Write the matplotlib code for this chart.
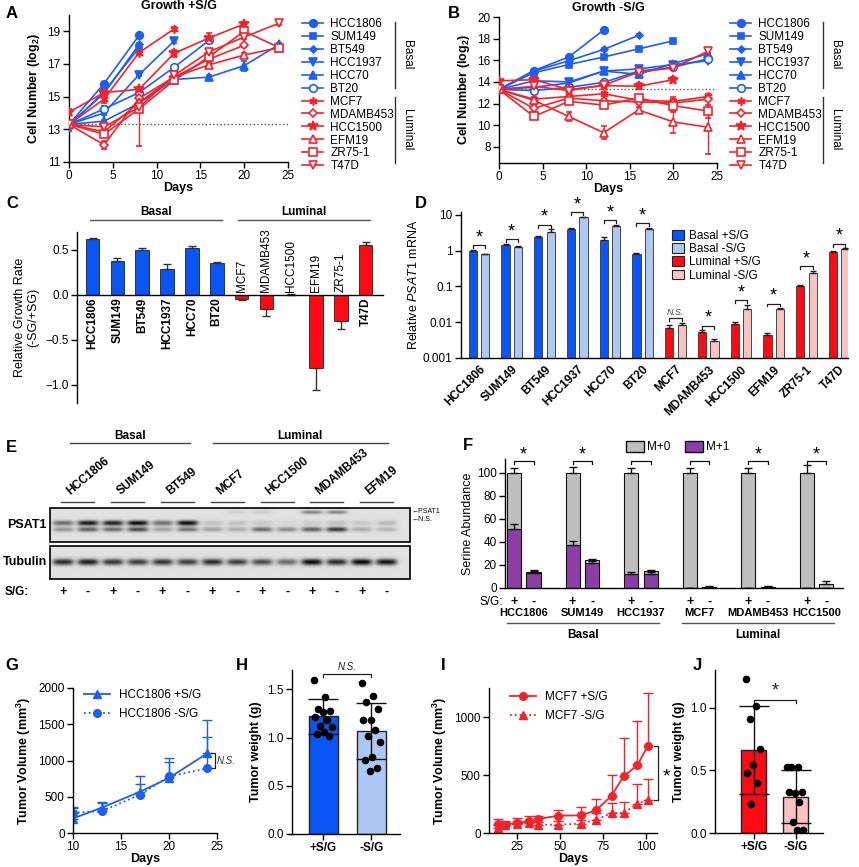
import numpy as np
import matplotlib
matplotlib.use("Agg")
import matplotlib.pyplot as plt
from matplotlib.lines import Line2D
from matplotlib.patches import Patch, Rectangle
from matplotlib.ticker import NullLocator

plt.rcParams['font.family'] = ['Liberation Sans', 'DejaVu Sans']
plt.rcParams['font.size'] = 8
plt.rcParams['mathtext.fontset'] = 'custom'
plt.rcParams['mathtext.rm'] = 'Liberation Sans'
plt.rcParams['mathtext.it'] = 'Liberation Sans:italic'
plt.rcParams['mathtext.bf'] = 'Liberation Sans:bold'
plt.rcParams['axes.linewidth'] = 1.0

# ---------------- data ----------------
days = [0, 4, 8, 12, 16, 20, 24]
cell_lines = ['HCC1806', 'SUM149', 'BT549', 'HCC1937', 'HCC70', 'BT20',
              'MCF7', 'MDAMB453', 'HCC1500', 'EFM19', 'ZR75-1', 'T47D']

# A: growth +S/G (log2 cell number)
growth_plus = [
    [13.3, 15.8, 18.75],
    [13.2, 15.3, 18.0],
    [13.3, 15.2, 18.2],
    [13.3, 14.0, 16.35, 18.4],
    [13.3, 13.5, 14.6, 16.05, 16.2, 16.9, 18.2],
    [13.3, 14.25, 15.25, 16.8, 18.45],
    [13.3, 14.85, 17.7, 19.15],
    [13.3, 12.05, 14.9, 16.2, 17.3, 18.15],
    [14.05, 15.25, 15.45, 17.65, 18.6, 19.45],
    [13.3, 12.85, 14.65, 16.2, 16.95, 17.55, 18.0],
    [13.3, 12.7, 14.25, 16.0, 17.45, 19.0, 18.0],
    [13.3, 13.15, 14.35, 16.3, 17.75, 18.65, 19.5],
]
growth_plus_err = [
    [0.1, 0.1, 0.1],
    [0.3, 0.15, 0.1],
    [0.1, 0.1, 0.1],
    [0.1, 0.1, 0.1, 0.1],
    [0.1, 0.1, 0.1, 0.1, 0.1, 0.3, 0.1],
    [0.1, 0.15, 0.1, 0.1, 0.1],
    [0.1, 0.25, 0.1, 0.1],
    [0.1, 0.25, 0.1, 0.1, 0.1, 0.1],
    [0.2, 0.1, 0.1, 0.2, 0.3, 0.1],
    [0.1, 0.1, 0.1, 0.1, 0.1, 0.1, 0.1],
    [0.1, 0.2, (2.25, 0.1), 0.15, 0.3, 0.1, 0.1],
    [0.1, 0.15, 0.1, 0.1, 0.15, 0.1, 0.1],
]

# B: growth -S/G
growth_minus = [
    [13.3, 15.05, 16.3, 18.8],
    [13.3, 14.85, 15.6, 16.3, 17.05, 17.8],
    [13.3, 15.0, 15.95, 17.0, 18.3],
    [13.3, 14.1, 14.0, 15.0, 15.2, 15.6, 15.95],
    [13.3, 13.5, 13.9, 15.0, 14.7, 15.7, 16.6],
    [13.3, 13.2, 13.5, 13.95, 15.0, 15.35, 16.15],
    [13.3, 12.4, 12.65, 12.9, 12.3, 12.2, 12.65],
    [13.3, 11.55, 12.5, 12.25, 12.15, 12.05, 12.4],
    [14.1, 14.2, 13.3, 13.65, 13.6, 14.2],
    [13.3, 12.3, 10.8, 9.3, 11.4, 10.3, 9.8],
    [13.3, 10.8, 12.2, 11.85, 12.5, 11.8, 11.3],
    [13.3, 13.6, 13.2, 13.7, 14.9, 15.3, 16.85],
]
growth_minus_err = [
    [0.1, 0.15, 0.1, 0.1],
    [0.3, 0.1, 0.1, 0.1, 0.1, 0.1],
    [0.1, 0.1, 0.1, 0.1, 0.1],
    [0.1, 0.1, 0.15, 0.1, 0.1, 0.1, 0.1],
    [0.1, 0.1, 0.2, 0.1, 0.3, 0.1, 0.1],
    [0.1, 0.1, 0.1, 0.1, 0.1, 0.1, 0.1],
    [0.1, 0.15, 0.2, 0.2, 0.2, 0.4, 0.2],
    [0.1, 0.3, 0.1, 0.15, 0.2, 0.2, 0.2],
    [0.1, 0.1, 0.1, 0.2, 0.3, 0.25],
    [0.2, 0.3, 0.45, 0.6, 0.3, 1.05, 2.5],
    [0.1, 0.2, 0.2, 0.2, 0.3, 0.6, 0.6],
    [0.1, 0.1, 0.1, 0.15, 0.15, 0.2, 0.2],
]

# C: relative growth rate
rel_growth = [0.62, 0.38, 0.50, 0.29, 0.52, 0.36, -0.04, -0.16, 0.005, -0.81, -0.29, 0.56]
rel_growth_err = [0.015, 0.03, 0.02, 0.05, 0.02, 0.01, 0.02, 0.07, 0.002, 0.25, 0.09, 0.03]

# D: PSAT1 mRNA
psat1_plus = [0.95, 1.45, 2.4, 4.0, 2.0, 0.78, 0.007, 0.0053, 0.009, 0.0045, 0.1, 0.93]
psat1_plus_err = [0.1, 0.08, 0.1, 0.2, 0.35, 0.06, 0.0015, 0.0006, 0.0012, 0.0004, 0.008, 0.07]
psat1_minus = [0.78, 1.25, 3.4, 8.5, 5.0, 4.0, 0.0085, 0.003, 0.024, 0.023, 0.23, 1.1]
psat1_minus_err = [0.05, 0.06, 0.5, 0.4, 0.2, 0.25, 0.0012, 0.0005, 0.006, 0.0015, 0.04, 0.05]
psat1_sig = ['*', '*', '*', '*', '*', '*', 'N.S.', '*', '*', '*', '*', '*']

# E: western blot band intensities, 14 lanes
blot_lines = ['HCC1806', 'SUM149', 'BT549', 'MCF7', 'HCC1500', 'MDAMB453', 'EFM19']
blot_sg = ['+', '-'] * 7
psat1_top_band = [0, 0, 0, 0, 0, 0, 0, 0.08, 0.1, 0, 0.45, 0.45, 0, 0]
psat1_mid_band = [0.55, 0.95, 0.9, 1.0, 0.55, 1.0, 0.15, 0.15, 0.12, 0.05, 0.1, 0.15, 0.12, 0.18]
psat1_low_band = [0.35, 0.6, 0.55, 0.7, 0.3, 0.5, 0.3, 0.25, 0.55, 0.4, 0.6, 0.8, 0.25, 0.2]
tubulin_band = [0.85, 0.9, 0.8, 0.75, 0.8, 0.75, 0.85, 0.75, 0.7, 0.55, 1.0, 0.85, 1.0, 0.95]

# F: serine labelling
f_lines = ['HCC1806', 'SUM149', 'HCC1937', 'MCF7', 'MDAMB453', 'HCC1500']
m1_plus = [51, 37.5, 12, 0, 0, 0]
m1_plus_err = [5, 3.5, 1.5, 0, 0, 0]
total_plus = [100, 100, 100, 100, 100, 100]
total_plus_err = [4, 5, 4, 4.5, 4, 7]
m1_minus = [13, 22, 12.5, 0.5, 0.5, 0]
m1_minus_err = [2, 1.5, 1, 0, 0, 0]
total_minus = [13.5, 24.5, 14.5, 1, 1, 3.5]
total_minus_err = [2, 1, 1, 1, 0.5, 3]

# G: HCC1806 xenograft
g_days = [10, 13, 17, 20, 24]
g_plus = [200, 350, 570, 760, 1100]
g_plus_err = [150, 80, 220, 280, 460]
g_minus = [280, 300, 530, 780, 890]
g_minus_err = [80, 110, 150, 200, 430]

# H: HCC1806 tumor weight
h_plus_pts = [1.60, 1.42, 1.30, 1.28, 1.26, 1.21, 1.18, 1.12, 1.11, 1.06, 1.04, 1.02]
h_minus_pts = [1.57, 1.43, 1.37, 1.30, 1.18, 1.18, 1.08, 1.02, 0.95, 0.80, 0.77, 0.68, 0.65]
h_mean = [1.22, 1.07]
h_sd = [0.18, 0.29]

# I: MCF7 xenograft
i_days = [14, 18, 25, 32, 37, 49, 62, 71, 80, 87, 95, 101]
i_plus = [78, 72, 86, 100, 120, 150, 152, 195, 322, 488, 583, 747]
i_plus_err = [40, 30, 45, 45, 30, 45, 70, 100, 180, 330, 385, 460]
i_minus = [43, 72, 80, 86, 72, 72, 80, 115, 172, 172, 250, 287]
i_minus_err = [30, 20, 20, 25, 20, 30, 30, 60, 85, 95, 170, 175]

# J: MCF7 tumor weight
j_plus_pts = [1.23, 1.01, 0.91, 0.67, 0.54, 0.48, 0.40, 0.23]
j_minus_pts = [0.53, 0.53, 0.53, 0.33, 0.32, 0.33, 0.25, 0.085, 0.02, 0.02]
j_mean = [0.66, 0.29]
j_sd = [0.35, 0.21]

# ---------------- figure ----------------
W, H = 859, 867
fig = plt.figure(figsize=(W / 100, H / 100), dpi=100)

blue = '#1f5ef2'
red = '#f2232d'
dblue = '#0a55f5'
lblue = '#aec8f5'
bred = '#ff0a14'
pink = '#f8c3c0'
purple = '#8b3fa6'
gray = '#bebebe'


def box(l, t, r, b):
    return fig.add_axes([l / W, 1 - b / H, (r - l) / W, (b - t) / H])


def fline(x0, y0, x1, y1, color='#555555', lw=1.0):
    fig.add_artist(Line2D([x0 / W, x1 / W], [1 - y0 / H, 1 - y1 / H],
                          transform=fig.transFigure, color=color, lw=lw))


def ftext(x, y, s, **kw):
    fig.text(x / W, 1 - y / H, s, **kw)


def clean(ax):
    ax.spines['top'].set_visible(False)
    ax.spines['right'].set_visible(False)
    ax.tick_params(length=4, width=1, labelsize=8.5, pad=2)


# panel letters
for letter, x, y in [('A', 12, 14), ('B', 454, 13), ('C', 12, 203), ('D', 421, 204),
                     ('E', 11, 447), ('F', 468, 445), ('G', 12, 665), ('H', 242, 665),
                     ('I', 443, 665), ('J', 697, 665)]:
    ftext(x, y, letter, fontsize=12, fontweight='bold', ha='center', va='center')

# ---------- A & B ----------
markers = ['o', 's', 'D', 'v', '^', 'o', (6, 2, 0), 'D', '*', '^', 's', 'v']
filled = [True, True, True, True, True, False, True, False, True, False, False, False]
msizes = [5.5, 5, 3.5, 5.5, 5.5, 5.5, 6, 4.5, 7, 5.5, 5.5, 5.5]
lcolors = [blue] * 6 + [red] * 6


def growth_panel(ax, values, errs, title):
    for i, name in enumerate(cell_lines):
        y = values[i]
        d = days[:len(y)]
        lo = [e[0] if isinstance(e, tuple) else e for e in errs[i]]
        hi = [e[1] if isinstance(e, tuple) else e for e in errs[i]]
        ax.errorbar(d, y, yerr=[lo, hi], color=lcolors[i], marker=markers[i], ms=msizes[i],
                    mfc=lcolors[i] if filled[i] else 'white', mec=lcolors[i], mew=1.2,
                    lw=1.2, capsize=2.5, elinewidth=1, zorder=3)
    ax.axhline(13.3, ls=':', color='#555555', lw=1, zorder=1)
    ax.set_xlim(0, 25)
    ax.set_xticks([0, 5, 10, 15, 20, 25])
    ax.set_xlabel('Days', fontweight='bold', fontsize=9, labelpad=0)
    ax.set_ylabel(r'Cell Number (log$_\mathbf{2}$)', fontweight='bold', fontsize=9)
    ax.set_title(title, fontweight='bold', fontsize=9, pad=4)
    clean(ax)


def growth_legend(x, y, xbar):
    handles = [Line2D([], [], color=lcolors[i], marker=markers[i], ms=msizes[i],
                      mfc=lcolors[i] if filled[i] else 'white', mec=lcolors[i], mew=1.2, lw=1.2)
               for i in range(12)]
    fig.legend(handles, cell_lines, loc='upper left', bbox_to_anchor=(x / W, 1 - y / H),
               frameon=False, fontsize=8.5, labelspacing=0.08, handlelength=1.8,
               handletextpad=0.6, borderpad=0, borderaxespad=0)
    fline(xbar, 22, xbar, 88, color='#333333')
    fline(xbar, 97, xbar, 163, color='#333333')
    ftext(xbar + 12, 55, 'Basal', rotation=-90, ha='center', va='center', fontsize=8.5)
    ftext(xbar + 12, 130, 'Luminal', rotation=-90, ha='center', va='center', fontsize=8.5)


axA = box(69, 15, 288, 162)
growth_panel(axA, growth_plus, growth_plus_err, 'Growth +S/G')
axA.set_ylim(11, 20)
axA.set_yticks([11, 13, 15, 17, 19])
growth_legend(302, 18, 395)

axB = box(499, 17, 717, 163)
growth_panel(axB, growth_minus, growth_minus_err, 'Growth -S/G')
axB.set_ylim(6.5, 20)
axB.set_yticks([8, 10, 12, 14, 16, 18, 20])
growth_legend(730, 18, 823)

# ---------- C ----------
axC = box(77, 232, 383, 403)
xc = np.arange(12)
ccols = [dblue] * 6 + [bred] * 6
lo = [e if v < 0 else 0 for v, e in zip(rel_growth, rel_growth_err)]
hi = [e if v >= 0 else 0 for v, e in zip(rel_growth, rel_growth_err)]
axC.bar(xc, rel_growth, width=0.55, color=ccols, edgecolor='#333333', lw=0.7,
        yerr=[lo, hi], capsize=3, error_kw=dict(elinewidth=1, capthick=1, ecolor='#333333'))
axC.set_xlim(-0.63, 11.7)
axC.set_ylim(-1.2, 0.7)
axC.set_yticks([-1.0, -0.5, 0.0, 0.5])
axC.spines['bottom'].set_position(('data', 0))
axC.set_xticks([])
clean(axC)
axC.set_ylabel('Relative Growth Rate\n(-SG/+SG)', fontsize=9, labelpad=4)
for i, name in enumerate(cell_lines):
    if rel_growth[i] < 0.01 and i >= 6 and i != 11:
        axC.text(i, 0.03, name, rotation=90, ha='center', va='bottom', fontsize=8.5)
    else:
        axC.text(i, -0.03, name, rotation=90, ha='center', va='top', fontsize=8.5,
                 fontweight='bold')
fline(90, 220, 222, 220)
fline(238, 220, 370, 220)
ftext(156, 212, 'Basal', ha='center', va='center', fontweight='bold', fontsize=8.5)
ftext(304, 212, 'Luminal', ha='center', va='center', fontweight='bold', fontsize=8.5)

# ---------- D ----------
axD = box(461, 212, 848, 358)
xd = np.arange(12)
off = 0.19
pcol = [dblue] * 6 + [bred] * 6
mcol = [lblue] * 6 + [pink] * 6
ekw = dict(elinewidth=1, capthick=1, ecolor='#222222')
axD.bar(xd - off, psat1_plus, width=0.25, color=pcol, edgecolor='#444444', lw=0.7,
        yerr=[np.zeros(12), psat1_plus_err], capsize=2, error_kw=ekw)
axD.bar(xd + off, psat1_minus, width=0.25, color=mcol, edgecolor='#444444', lw=0.7,
        yerr=[np.zeros(12), psat1_minus_err], capsize=2, error_kw=ekw)
axD.set_yscale('log')
axD.set_ylim(0.001, 12)
axD.set_xlim(-0.55, 11.27)
axD.set_yticks([0.001, 0.01, 0.1, 1, 10])
axD.set_yticklabels(['0.001', '0.01', '0.1', '1', '10'])
axD.yaxis.set_minor_locator(NullLocator())
axD.set_xticks(xd)
axD.set_xticklabels(cell_lines, rotation=45, ha='right', rotation_mode='anchor',
                    fontweight='bold', fontsize=8.5)
clean(axD)
axD.tick_params(axis='x', length=0, pad=4)
axD.set_ylabel(r'Relative $\mathit{PSAT1}$ mRNA', fontsize=9, labelpad=2)
for i in range(12):
    top = max(psat1_plus[i] + psat1_plus_err[i], psat1_minus[i] + psat1_minus_err[i])
    yb = top * 1.35
    axD.plot([i - off, i - off, i + off, i + off], [yb / 1.2, yb, yb, yb / 1.2],
             color='#222222', lw=0.9, clip_on=False)
    if psat1_sig[i] == '*':
        axD.text(i, yb * 0.93, '*', ha='center', va='bottom', fontsize=13, clip_on=False)
    else:
        axD.text(i, yb * 1.05, 'N.S.', ha='center', va='bottom', fontsize=6.5,
                 style='italic', color='#444444')
axD.legend(handles=[Patch(fc=c, ec='#222222', lw=0.8) for c in [dblue, lblue, bred, pink]],
           labels=['Basal +S/G', 'Basal -S/G', 'Luminal +S/G', 'Luminal -S/G'],
           loc='upper left', bbox_to_anchor=(672 / W, 1 - 230 / H), bbox_transform=fig.transFigure,
           frameon=False, fontsize=8.5, handlelength=1.0, handleheight=0.9,
           labelspacing=0.1, handletextpad=0.4, borderpad=0, borderaxespad=0)

# ---------- E (western blot) ----------
axE = fig.add_axes([0, 1 - 620 / H, 430 / W, 220 / H])
lanes = 63 + 24.9 * np.arange(14)


def blot(x0, x1, y0, y1, rows):
    xs = np.linspace(x0, x1, 2 * int(x1 - x0))
    ys = np.linspace(y0, y1, 2 * int(y1 - y0))
    X, Y = np.meshgrid(xs, ys)
    img = np.full(X.shape, 0.0)
    for yc, sy, inten in rows:
        for lx, a in zip(lanes, inten):
            img += a * np.exp(-((X - lx) / 10.5) ** 4 - ((Y - yc) / sy) ** 2)
    img = 0.88 - 0.85 * np.clip(img, 0, 1.05)
    axE.imshow(img, cmap='gray', vmin=0, vmax=1, extent=(x0, x1, y1, y0),
               aspect='auto', interpolation='bilinear')
    axE.add_patch(Rectangle((x0, y0), x1 - x0, y1 - y0, fill=False, ec='#111111', lw=1.3))


blot(50, 410, 508, 542, [(512, 1.8, psat1_top_band), (523, 2.6, psat1_mid_band),
                         (529.5, 2.4, psat1_low_band)])
blot(50, 410, 546, 579, [(562, 3.2, tubulin_band)])
axE.set_xlim(0, 430)
axE.set_ylim(620, 400)
axE.axis('off')
axE.text(47, 525, 'PSAT1', ha='right', va='center', fontweight='bold', fontsize=9)
axE.text(47, 562, 'Tubulin', ha='right', va='center', fontweight='bold', fontsize=9)
axE.text(5, 592, 'S/G:', ha='left', va='center', fontweight='bold', fontsize=8.5)
for lx, s in zip(lanes, blot_sg):
    axE.text(lx, 592, s, ha='center', va='center', fontweight='bold', fontsize=9)
for k, name in enumerate(blot_lines):
    c = (lanes[2 * k] + lanes[2 * k + 1]) / 2
    axE.plot([c - 14, c + 19], [502, 502], color='#444444', lw=1)
    axE.text(c - 3, 497, name, rotation=40, rotation_mode='anchor', ha='left', va='bottom',
             fontweight='bold', fontsize=8.5)
axE.plot([70, 190], [443, 443], color='#444444', lw=1)
axE.plot([213, 388], [443, 443], color='#444444', lw=1)
axE.text(130, 436, 'Basal', ha='center', va='center', fontweight='bold', fontsize=8.5)
axE.text(300, 436, 'Luminal', ha='center', va='center', fontweight='bold', fontsize=8.5)
axE.text(412, 511, '\u2190PSAT1', ha='left', va='center', fontsize=5, clip_on=False)
axE.text(412, 519, '\u2190N.S.', ha='left', va='center', fontsize=5, clip_on=False)

# ---------- F ----------
axF = box(505, 459, 843, 588)
xf = np.arange(6)
fo = 1 / 6
bw = 0.24
for pos, m1, m1e, tot, tote in [(xf - fo, m1_plus, m1_plus_err, total_plus, total_plus_err),
                                (xf + fo, m1_minus, m1_minus_err, total_minus, total_minus_err)]:
    m0 = np.array(tot) - np.array(m1)
    axF.bar(pos, m1, width=bw, color=purple, edgecolor='#111111', lw=0.8)
    axF.bar(pos, m0, bottom=m1, width=bw, color=gray, edgecolor='#111111', lw=0.8)
    axF.errorbar(pos, tot, yerr=[np.zeros(6), tote], fmt='none', ecolor='#111111',
                 elinewidth=1, capsize=3, capthick=1)
    axF.errorbar(pos, m1, yerr=[np.zeros(6), m1e], fmt='none', ecolor='#111111',
                 elinewidth=1, capsize=3, capthick=1)
axF.set_xlim(-0.32, 5.45)
axF.set_ylim(0, 112)
axF.set_yticks([0, 20, 40, 60, 80, 100])
axF.set_xticks([])
clean(axF)
axF.set_ylabel('Serine Abundance', fontsize=9, labelpad=2)
for g in xf:
    axF.plot([g - fo, g - fo, g + fo, g + fo], [108, 110.5, 110.5, 108], color='#111111',
             lw=0.9, clip_on=False)
    axF.text(g, 108.5, '*', ha='center', va='bottom', fontsize=13, clip_on=False)
tr = axF.get_xaxis_transform()
axF.text(-0.36, -0.11, 'S/G:', transform=tr, ha='right', va='center', fontsize=8.5)
for g, name in enumerate(f_lines):
    axF.text(g - fo, -0.11, '+', transform=tr, ha='center', va='center', fontsize=9,
             fontweight='bold')
    axF.text(g + fo, -0.11, '-', transform=tr, ha='center', va='center', fontsize=9,
             fontweight='bold')
    axF.text(g, -0.195, name, transform=tr, ha='center', va='center', fontsize=8,
             fontweight='bold')
axF.legend(handles=[Patch(fc=gray, ec='#111111'), Patch(fc=purple, ec='#111111')],
           labels=['M+0', 'M+1'], ncol=2, loc='upper left',
           bbox_to_anchor=(626 / W, 1 - 441 / H), bbox_transform=fig.transFigure,
           frameon=False, fontsize=8.5, handlelength=1.5, handleheight=1.0,
           handletextpad=0.3, columnspacing=1.2, borderpad=0, borderaxespad=0)
fline(507, 623, 659, 623)
fline(682, 623, 834, 623)
ftext(583, 635, 'Basal', ha='center', va='center', fontweight='bold', fontsize=8.5)
ftext(758, 635, 'Luminal', ha='center', va='center', fontweight='bold', fontsize=8.5)

# ---------- G ----------
axG = box(73, 688, 217, 833)
axG.errorbar(g_days, g_plus, yerr=[np.zeros(5), g_plus_err], color=blue, marker='^', ms=5.5,
             lw=1.3, capsize=3.5, elinewidth=1, label='HCC1806 +S/G')
axG.errorbar(g_days, g_minus, yerr=[np.zeros(5), g_minus_err], color=blue, marker='o', ms=5.5,
             lw=1.3, ls=':', capsize=3.5, elinewidth=1, label='HCC1806 -S/G')
axG.set_xlim(10, 25)
axG.set_ylim(0, 2000)
axG.set_xticks([10, 15, 20, 25])
axG.set_yticks([0, 500, 1000, 1500, 2000])
clean(axG)
axG.set_xlabel('Days', fontweight='bold', fontsize=9, labelpad=0)
axG.set_ylabel(r'Tumor Volume (mm$^\mathbf{3}$)', fontweight='bold', fontsize=9)
axG.plot([24.4, 24.75, 24.75, 24.4], [1100, 1100, 890, 890], color='#222222', lw=0.9,
         clip_on=False)
axG.text(24.95, 995, 'N.S.', style='italic', fontsize=7, va='center', ha='left', color='#333333')
hg = [Line2D([], [], color=blue, marker='^', ms=5.5, lw=1.3),
      Line2D([], [], color=blue, marker='o', ms=5.5, lw=1.3, ls=':')]
axG.legend(hg, ['HCC1806 +S/G', 'HCC1806 -S/G'], loc='upper left',
           bbox_to_anchor=(84 / W, 1 - 689 / H), bbox_transform=fig.transFigure,
           frameon=False, fontsize=8.5, handlelength=2.2, labelspacing=0.6,
           borderpad=0, borderaxespad=0)


def spread(n, w):
    k = np.arange(n)
    return ((k * 0.618) % 1 - 0.5) * 2 * w


def weight_panel(ax, pts_a, pts_b, mean, sd, cols, ymax, yticks, sig, sig_y, sig_fs, sig_style):
    ax.bar([0, 1], mean, width=0.6, color=cols, edgecolor='#222222', lw=1)
    ax.errorbar([0, 1], mean, yerr=sd, fmt='none', ecolor='#111111', elinewidth=1,
                capsize=11, capthick=1, zorder=4)
    for x, pts in [(0, pts_a), (1, pts_b)]:
        ax.scatter(x + spread(len(pts), 0.2), pts, s=20, color='black', zorder=5)
    ax.set_xlim(-0.65, 1.6)
    ax.set_ylim(0, ymax)
    ax.set_yticks(yticks)
    ax.set_xticks([0, 1])
    ax.set_xticklabels(['+S/G', '-S/G'], fontweight='bold', fontsize=9)
    clean(ax)
    ax.set_ylabel('Tumor weight (g)', fontweight='bold', fontsize=9)
    d = ymax * 0.02
    ax.plot([0, 0, 1, 1], [sig_y - d, sig_y, sig_y, sig_y - d], color='#222222', lw=0.9,
            clip_on=False)
    ax.text(0.5, sig_y + d * (0.2 if sig == '*' else 0.6), sig, ha='center', va='bottom',
            fontsize=sig_fs, style=sig_style, color='#222222', clip_on=False)


axH = box(292, 670, 400, 834)
weight_panel(axH, h_plus_pts, h_minus_pts, h_mean, h_sd, [dblue, lblue], 1.70,
             [0.0, 0.5, 1.0, 1.5], 'N.S.', 1.66, 7, 'italic')

# ---------- I ----------
axI = box(489, 688, 657, 833)
axI.errorbar(i_days, i_plus, yerr=[np.zeros(12), i_plus_err], color=red, marker='o', ms=5.5,
             lw=1.3, capsize=3.5, elinewidth=1)
axI.errorbar(i_days, i_minus, yerr=[np.zeros(12), i_minus_err], color=red, marker='^', ms=5.5,
             lw=1.3, ls=':', capsize=3.5, elinewidth=1)
axI.set_xlim(8.5, 106.5)
axI.set_ylim(0, 1250)
axI.set_xticks([25, 50, 75, 100])
axI.set_yticks([0, 500, 1000])
clean(axI)
axI.set_xlabel('Days', fontweight='bold', fontsize=9, labelpad=0)
axI.set_ylabel(r'Tumor Volume (mm$^\mathbf{3}$)', fontweight='bold', fontsize=9)
axI.plot([104.5, 107, 107, 104.5], [747, 747, 287, 287], color='#222222', lw=0.9,
         clip_on=False)
axI.text(110, 480, '*', fontsize=14, ha='left', va='center')
hi_ = [Line2D([], [], color=red, marker='o', ms=5.5, lw=1.3),
       Line2D([], [], color=red, marker='^', ms=5.5, lw=1.3, ls=':')]
axI.legend(hi_, ['MCF7 +S/G', 'MCF7 -S/G'], loc='upper left',
           bbox_to_anchor=(510 / W, 1 - 691 / H), bbox_transform=fig.transFigure,
           frameon=False, fontsize=8.5, handlelength=2.2, labelspacing=0.6,
           borderpad=0, borderaxespad=0)

# ---------- J ----------
axJ = box(715, 670, 823, 833)
weight_panel(axJ, j_plus_pts, j_minus_pts, j_mean, j_sd, [bred, pink], 1.30,
             [0.0, 0.5, 1.0], '*', 1.06, 13, 'normal')
axJ.set_xlim(-0.93, 1.65)

fig.savefig('out.png', dpi=100)
